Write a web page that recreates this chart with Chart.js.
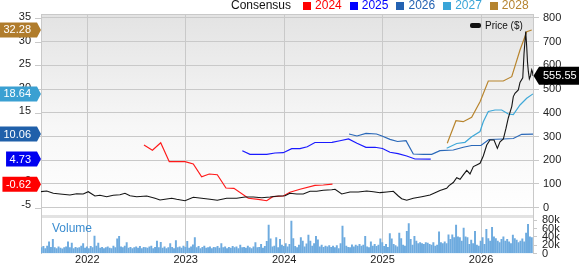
<!DOCTYPE html>
<html>
<head>
<meta charset="utf-8">
<script src="https://cdn.jsdelivr.net/npm/chart.js@4.4.1/dist/chart.umd.min.js"></script>
<style>
html,body{margin:0;padding:0;background:#fff;}
#wrap{position:relative;width:579px;height:264px;overflow:hidden;font-family:"Liberation Sans",Arial,sans-serif;}
#c{position:absolute;left:0;top:0;}
#legend{position:absolute;left:231px;top:0;height:11px;display:flex;align-items:center;font-size:12px;line-height:11px;white-space:nowrap;color:#111;}
#legend .sq{width:8px;height:8px;margin-right:4px;}
#legend .tx{margin-right:8px;}
#legend .first{margin-right:12px;}
#priceLegend{position:absolute;left:470px;top:19px;height:13px;display:flex;align-items:center;font-size:10px;line-height:13px;color:#111;white-space:nowrap;}
#priceLegend .sw{width:11px;height:5px;background:#111;border-radius:2px;margin-right:4px;}
#volLabel{position:absolute;left:52px;top:222px;font-size:12px;line-height:13px;color:#3b8dd0;}
</style>
</head>
<body>
<div id="wrap">
  <canvas id="c" width="579" height="264"></canvas>
  <div id="legend"></div>
  <div id="priceLegend"><span class="sw"></span><span>Price ($)</span></div>
  <div id="volLabel">Volume</div>
</div>
<script>
// ---------------- DATA ----------------
const legendTitle = 'Consensus';
const consensusYears = ['2024', '2025', '2026', '2027', '2028'];

const eps2024Dates = [2022.576,2022.662,2022.746,2022.833,2022.993,2023.077,2023.162,2023.239,2023.321,2023.409,2023.490,2023.636,2023.737,2023.823,2023.884,2023.991,2024.059,2024.161,2024.313,2024.398,2024.491];
const eps2024 = [7.74,6.63,8.23,4.17,4.17,3.68,0.97,1.55,1.40,-1.44,-1.50,-3.63,-3.85,-4.15,-3.29,-3.14,-2.35,-1.71,-0.86,-0.80,-0.62];

const eps2025Dates = [2023.575,2023.653,2023.823,2023.907,2023.991,2024.077,2024.161,2024.235,2024.313,2024.486,2024.567,2024.654,2024.740,2024.831,2024.923,2024.999,2025.075,2025.157,2025.245,2025.329,2025.489];
const eps2025 = [6.52,5.75,5.75,6.03,6.09,6.95,6.95,7.37,8.27,8.31,8.65,9.02,8.10,7.25,7.25,6.99,6.18,5.88,5.39,4.75,4.73];

const eps2026Dates = [2024.659,2024.740,2024.831,2024.938,2024.994,2025.075,2025.152,2025.238,2025.312,2025.414,2025.499,2025.583,2025.718,2025.820,2025.905,2025.999,2026.080,2026.226,2026.328,2026.413,2026.528];
const eps2026 = [10.08,9.66,10.23,10.08,9.66,8.95,8.48,8.65,5.82,5.75,5.75,6.52,6.67,7.25,7.63,7.63,8.91,9.02,9.12,10.02,10.06];

const eps2027Dates = [2025.651,2025.753,2025.837,2025.905,2025.990,2026.023,2026.074,2026.142,2026.210,2026.277,2026.328,2026.396,2026.464,2026.528];
const eps2027 = [7.03,8.06,8.31,9.51,10.62,12.71,14.88,15.20,15.20,14.35,14.24,16.27,17.70,18.64];

const eps2028Dates = [2025.657,2025.745,2025.819,2025.905,2025.990,2026.074,2026.226,2026.312,2026.396,2026.464,2026.515];
const eps2028 = [8.10,12.92,12.71,13.65,16.97,21.39,21.39,22.31,28.00,31.91,32.28];

const latestEps = [-0.62, 4.73, 10.06, 18.64, 32.28];

const priceDates = [2021.530,2021.588,2021.655,2021.723,2021.824,2021.892,2021.959,2022.010,2022.078,2022.129,
2022.197,2022.264,2022.332,2022.383,2022.434,2022.502,2022.604,2022.688,2022.739,2022.807,
2022.858,2022.908,2022.993,2023.077,2023.162,2023.247,2023.321,2023.416,2023.518,2023.602,
2023.687,2023.772,2023.856,2023.941,2024.009,2024.059,2024.127,2024.194,2024.263,2024.331,
2024.398,2024.483,2024.517,2024.585,2024.669,2024.753,2024.839,2024.906,2024.974,2025.042,
2025.109,2025.160,2025.194,2025.245,2025.312,2025.398,2025.482,2025.550,2025.583,2025.651,
2025.675,2025.718,2025.753,2025.787,2025.820,2025.855,2025.888,2025.922,2025.956,2025.990,
2026.023,2026.058,2026.091,2026.132,2026.166,2026.193,2026.227,2026.254,2026.277,2026.312,
2026.328,2026.345,2026.379,2026.396,2026.424,2026.437,2026.454,2026.464,2026.472,2026.481,
2026.491,2026.503,2026.515,2026.523,2026.528];
const priceValues = [67.5,70.4,60.7,57.8,53.6,59,57.8,67.5,49.3,52.3,
46.4,52.3,54.8,60.7,50.6,46.4,49.3,39.6,32.5,36.7,
39.6,35.4,29.5,43.9,39.6,35.4,31.2,39.6,39.6,45.1,
45.1,42.2,45.1,49.3,50.6,60.7,57.8,57.8,69.2,69.2,
73.4,75.9,77.6,57.8,66.2,66.2,70.4,67.5,63.3,66.2,
69.2,49.3,38,31.2,39.6,46.4,53.6,66.2,72.5,81.8,
92.8,106,126,119.8,138,157,142,173,180,187,
218,264,285.5,285.5,250,278,290,335,378,426,
468,482,496,528,547,651,742,679,614,573,
543,555,581,572,555.55];
const latestPrice = 555.55;

// weekly volume, thousands of shares
const volumeStart = 2021.535;
const volumeK = [
14,17,12,18,28,15,34,14,12,16,
13,11,14,16,28,14,25,12,15,13,
14,18,24,13,16,12,17,14,42,18,
25,13,15,12,14,16,13,12,18,14,
35,41,16,14,18,26,13,15,12,14,
16,13,17,12,15,14,13,16,18,12,
15,30,14,27,13,16,12,14,24,15,
12,31,14,16,13,18,15,29,13,16,
21,38,14,17,12,15,18,13,14,16,
12,15,14,17,13,24,14,16,12,15,
13,17,14,16,12,20,14,15,13,18,
14,12,16,26,14,15,22,13,17,29,
68,35,16,18,38,14,34,20,17,24,
16,22,78,36,17,14,20,38,30,16,
23,44,30,18,24,41,33,16,20,15,
18,16,19,15,18,14,19,12,24,66,
38,18,15,14,21,16,20,18,22,18,
20,41,16,14,28,18,22,17,20,35,
26,17,22,15,48,35,22,19,16,49,
36,20,18,53,72,34,20,41,30,24,
26,24,22,26,25,22,20,26,18,20,
52,26,24,28,24,45,34,45,38,68,
40,38,30,61,40,38,22,32,24,53,
20,18,30,38,22,58,36,30,63,40,
36,30,26,34,40,30,34,28,24,44,
36,32,26,30,35,28,49,70,40,38];

const yearTicks = [2022, 2023, 2024, 2025, 2026];
const epsTicks = [-5, 0, 5, 10, 15, 20, 25, 30, 35];
const priceTicks = [0, 100, 200, 300, 400, 500, 600, 700, 800];
const volumeTicks = [0, 20, 40, 60, 80];

// ---------------- STYLE ----------------
const FONT = '"Liberation Sans", Arial, sans-serif';
const seriesColors = ['#ff1a1a', '#1a1aff', '#2a68b8', '#3ea8d8', '#b8852e'];
const legendColors = ['#ff0000', '#0000ff', '#2462b2', '#3aa5d8', '#b5832e'];
const badgeColors = ['#ff0000', '#0000f0', '#2060aa', '#3aa0d2', '#b07c2c'];
const GRID = '#c9c9c9';

(function () {
  const lg = document.getElementById('legend');
  const t = document.createElement('span');
  t.className = 'first';
  t.textContent = legendTitle;
  lg.appendChild(t);
  consensusYears.forEach((y, i) => {
    const sq = document.createElement('span');
    sq.className = 'sq';
    sq.style.background = legendColors[i];
    lg.appendChild(sq);
    const tx = document.createElement('span');
    tx.className = 'tx';
    tx.style.color = legendColors[i];
    tx.textContent = y;
    lg.appendChild(tx);
  });
})();

function pts(xs, ys) { return xs.map((x, i) => ({ x: x, y: ys[i] })); }

const epsSeries = [
  [eps2024Dates, eps2024], [eps2025Dates, eps2025], [eps2026Dates, eps2026],
  [eps2027Dates, eps2027], [eps2028Dates, eps2028]
];

const datasets = [
  {
    type: 'line', label: 'Price ($)', data: pts(priceDates, priceValues), yAxisID: 'yPrice',
    borderColor: '#151515', borderWidth: 1.1, pointRadius: 0, tension: 0
  }
];
epsSeries.forEach((s, i) => {
  datasets.push({
    type: 'line', label: consensusYears[i], data: pts(s[0], s[1]), yAxisID: 'y',
    borderColor: seriesColors[i], borderWidth: 1.2, pointRadius: 0, tension: 0
  });
});
datasets.push({
  type: 'bar', label: 'Volume', yAxisID: 'yVol',
  data: volumeK.map((v, i) => ({ x: volumeStart + i / 52, y: v })),
  backgroundColor: '#6eabdf', barThickness: 1.3, borderWidth: 0
});

const bgPlugin = {
  id: 'bg',
  beforeDraw(chart) {
    const { ctx, chartArea: a } = chart;
    const sep = chart.scales.yPrice.bottom;
    ctx.save();
    const g = ctx.createLinearGradient(0, a.top, 0, sep);
    g.addColorStop(0, '#e3e3e3');
    g.addColorStop(0.55, '#f7f7f7');
    g.addColorStop(1, '#ffffff');
    ctx.fillStyle = g;
    ctx.fillRect(a.left, a.top, a.right - a.left, sep - a.top);
    ctx.fillStyle = '#e2e2e2';
    ctx.fillRect(a.left, sep - 3, a.right - a.left, 3);
    ctx.restore();
  },
  afterDraw(chart) {
    const { ctx, chartArea: a } = chart;
    const ys = chart.scales.y, yp = chart.scales.yPrice;
    ctx.save();
    ctx.strokeStyle = GRID; ctx.lineWidth = 1;
    ctx.beginPath();
    ctx.moveTo(a.left, Math.round(a.top) + 0.5); ctx.lineTo(a.right, Math.round(a.top) + 0.5);
    priceTicks.forEach(v => {
      const py = Math.round(yp.getPixelForValue(v)) + 0.5;
      ctx.moveTo(a.left - 6, py); ctx.lineTo(a.left, py);
    });
    ctx.stroke();
    ctx.font = '11px ' + FONT;
    ctx.textBaseline = 'middle';
    latestEps.forEach((v, i) => {
      const y = ys.getPixelForValue(v);
      const txt = v.toFixed(2);
      const w = ctx.measureText(txt).width;
      const tip = a.left, bodyR = a.left - 4, textR = a.left - 10;
      const bodyL = Math.max(0, textR - w - 3.5);
      ctx.fillStyle = badgeColors[i];
      ctx.beginPath();
      ctx.moveTo(bodyL, y - 7.5); ctx.lineTo(bodyR, y - 7.5); ctx.lineTo(tip, y);
      ctx.lineTo(bodyR, y + 7.5); ctx.lineTo(bodyL, y + 7.5); ctx.closePath();
      ctx.fill();
      ctx.fillStyle = '#ffffff';
      ctx.textAlign = 'right';
      ctx.fillText(txt, textR, y + 0.5);
    });
    const py = yp.getPixelForValue(latestPrice);
    ctx.fillStyle = '#000000';
    ctx.beginPath();
    ctx.moveTo(a.right + 0.5, py); ctx.lineTo(a.right + 6, py - 9); ctx.lineTo(chart.width, py - 9);
    ctx.lineTo(chart.width, py + 9); ctx.lineTo(a.right + 6, py + 9); ctx.closePath();
    ctx.fill();
    ctx.fillStyle = '#ffffff';
    ctx.textAlign = 'left';
    ctx.fillText(latestPrice.toFixed(2), a.right + 10, py + 0.5);
    ctx.restore();
  }
};

const tickFont = { family: FONT, size: 11 };
function fixV(w) { return s => { s.width = w; s.paddingTop = 0; s.paddingBottom = 0; }; }

new Chart(document.getElementById('c'), {
  data: { datasets: datasets },
  plugins: [bgPlugin],
  options: {
    responsive: false, animation: false, devicePixelRatio: 1,
    layout: { padding: { top: 14, left: 0, right: 0, bottom: 0 } },
    plugins: { legend: { display: false }, tooltip: { enabled: false }, title: { display: false } },
    scales: {
      x: {
        type: 'linear', position: 'bottom', min: 2021.53, max: 2026.528, offset: false, bounds: 'ticks',
        afterBuildTicks: s => { s.ticks = yearTicks.map(v => ({ value: v })); },
        afterFit: s => { s.height = 10.5; s.paddingLeft = 0; s.paddingRight = 0; },
        grid: { color: GRID, drawTicks: false, lineWidth: 1, offset: false },
        border: { display: false },
        ticks: { font: tickFont, color: '#222', padding: 0, maxRotation: 0, autoSkip: false, callback: v => String(v) }
      },
      y: {
        type: 'linear', position: 'left', min: -15.41, max: 35.683,
        afterBuildTicks: s => { s.ticks = epsTicks.map(v => ({ value: v })); },
        afterFit: fixV(41),
        grid: { display: true, drawOnChartArea: false, drawTicks: false },
        border: { display: true, color: GRID },
        ticks: { font: tickFont, color: '#222', padding: 10, autoSkip: false, callback: v => String(v) }
      },
      yPrice: {
        type: 'linear', position: 'right', stack: 'right', stackWeight: 204, min: -43.4, max: 816.0,
        afterBuildTicks: s => { s.ticks = priceTicks.map(v => ({ value: v })); },
        afterFit: fixV(46),
        grid: { color: GRID, drawOnChartArea: true, tickLength: 6, lineWidth: 1 },
        border: { display: true, color: GRID },
        ticks: { font: tickFont, color: '#222', padding: 4, autoSkip: false, callback: v => String(v) }
      },
      yVol: {
        type: 'linear', position: 'right', stack: 'right', stackWeight: 35.5, min: 0, max: 85.3,
        afterBuildTicks: s => { s.ticks = volumeTicks.map(v => ({ value: v })); },
        afterFit: fixV(46),
        grid: { color: GRID, drawOnChartArea: false, tickLength: 4 },
        border: { display: true, color: GRID },
        ticks: { font: tickFont, color: '#222', padding: 5, autoSkip: false, callback: v => (v === 0 ? '0' : v + 'k') }
      }
    }
  }
});
</script>
</body>
</html>
